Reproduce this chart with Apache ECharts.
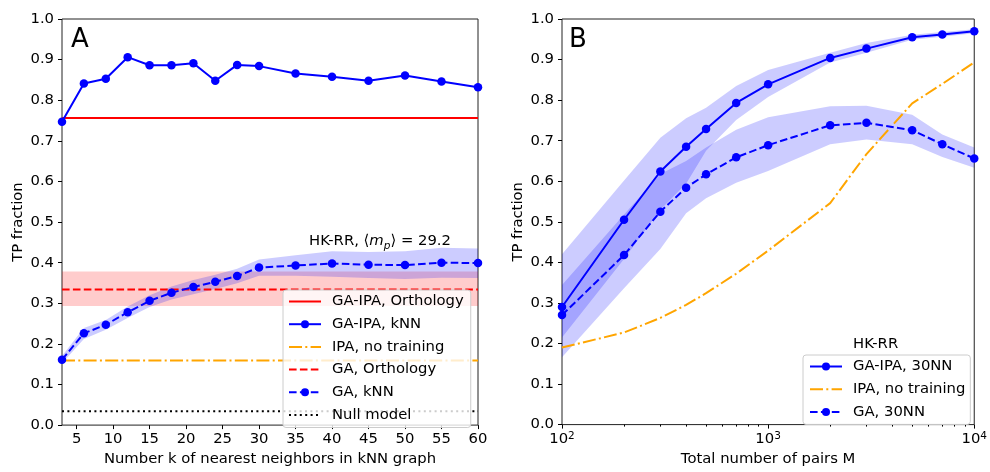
<!DOCTYPE html>
<html>
<head>
<meta charset="utf-8">
<script src="https://cdn.jsdelivr.net/npm/echarts@6/dist/echarts.min.js"></script>
<style>
  html, body { margin: 0; padding: 0; background: #fff; }
  #chart { width: 990px; height: 472px; }
</style>
</head>
<body>
<div id="chart"></div>
<script>
// ---- panel A : TP fraction vs k ----
var kValues   = [3, 6, 9, 12, 15, 18, 21, 24, 27, 30, 35, 40, 45, 50, 55, 60];
var gaIpaKnn  = [0.747, 0.841, 0.853, 0.906, 0.886, 0.886, 0.891, 0.848, 0.887, 0.884, 0.866, 0.858, 0.848, 0.861, 0.846, 0.832];
var gaKnn     = [0.161, 0.226, 0.247, 0.278, 0.306, 0.326, 0.340, 0.353, 0.367, 0.388, 0.393, 0.398, 0.395, 0.394, 0.400, 0.399];
var gaKnnLow  = [0.152, 0.212, 0.235, 0.264, 0.291, 0.309, 0.322, 0.335, 0.349, 0.368, 0.368, 0.365, 0.362, 0.360, 0.363, 0.362];
var gaKnnHigh = [0.170, 0.239, 0.259, 0.292, 0.320, 0.341, 0.357, 0.370, 0.385, 0.408, 0.418, 0.428, 0.426, 0.428, 0.437, 0.435];
var gaIpaOrthology = 0.756;
var gaOrthology = 0.334, gaOrthologyLow = 0.293, gaOrthologyHigh = 0.378;
var ipaNoTrainingA = 0.159;
var nullModel = 0.034;
var kTicks = [5, 10, 15, 20, 25, 30, 35, 40, 45, 50, 55, 60];

// ---- panel B : TP fraction vs M ----
var pairsM       = [100, 200, 300, 400, 500, 700, 1000, 2000, 3000, 5000, 7000, 10000];
var gaIpa30      = [0.290, 0.505, 0.624, 0.685, 0.729, 0.793, 0.839, 0.904, 0.927, 0.955, 0.962, 0.970];
var gaIpa30Low   = [0.215, 0.408, 0.530, 0.594, 0.675, 0.751, 0.808, 0.893, 0.917, 0.949, 0.956, 0.965];
var gaIpa30High  = [0.420, 0.602, 0.707, 0.755, 0.781, 0.835, 0.874, 0.917, 0.941, 0.961, 0.968, 0.975];
var ga30         = [0.270, 0.418, 0.525, 0.584, 0.617, 0.659, 0.689, 0.738, 0.744, 0.726, 0.691, 0.656];
var ga30Low      = [0.166, 0.336, 0.433, 0.521, 0.558, 0.596, 0.625, 0.691, 0.703, 0.691, 0.660, 0.633];
var ga30High     = [0.344, 0.518, 0.618, 0.650, 0.683, 0.727, 0.758, 0.785, 0.786, 0.764, 0.715, 0.683];
var ipaNoTrainingB = [0.190, 0.227, 0.263, 0.295, 0.324, 0.372, 0.429, 0.546, 0.667, 0.792, 0.840, 0.893];
var mMinorTicks  = [200, 300, 400, 500, 600, 700, 800, 900, 2000, 3000, 4000, 5000, 6000, 7000, 8000, 9000];

var FONT = 'DejaVu Sans';
var FS = 14.8;
var BLUE = '#0000ff', RED = '#ff0000', ORANGE = '#ffa500';
var DASH = [7.6, 3.3], DASHDOT = [13, 3.3, 2, 3.3], DOT = [2, 3.4];

function pts(xs, ys) { return xs.map(function (x, i) { return [x, ys[i]]; }); }
function flat(xs, v) { return [[xs[0], v], [xs[xs.length - 1], v]]; }

// shaded band between lo and hi, drawn as one polygon through the axes
function band(g, xs, lo, hi, color) {
  return {
    type: 'custom', xAxisIndex: g === 0 ? 0 : 1, yAxisIndex: g, silent: true, z: 1,
    data: xs.map(function (x, i) { return [x, lo[i], hi[i]]; }),
    encode: { x: 0, y: [1, 2] },
    renderItem: function (params, api) {
      if (params.dataIndex !== 0) return;
      var top = [], bot = [];
      for (var i = 0; i < xs.length; i++) {
        top.push(api.coord([xs[i], hi[i]]));
        bot.push(api.coord([xs[i], lo[i]]));
      }
      return { type: 'polygon', shape: { points: top.concat(bot.reverse()) }, style: { fill: color } };
    }
  };
}

function line(name, g, data, color, type, marker) {
  return { name: name, type: 'line', xAxisIndex: g === 0 ? 0 : 1, yAxisIndex: g, data: data,
    symbol: marker ? 'circle' : 'none', symbolSize: 8.5, showSymbol: !!marker,
    itemStyle: { color: color }, lineStyle: { color: color, width: 2, type: type },
    silent: true, z: 3 };
}

var yAxisBase = {
  type: 'value', min: 0, max: 1, interval: 0.1,
  name: 'TP fraction', nameLocation: 'middle', nameGap: 36,
  nameTextStyle: { fontSize: FS, color: '#000', fontFamily: FONT },
  axisLine: { show: false },
  axisTick: { show: true, length: 4, lineStyle: { color: '#000' } },
  axisLabel: { fontSize: FS, color: '#000', margin: 8, fontFamily: FONT,
    formatter: function (v) { return v.toFixed(1); } },
  splitLine: { show: false }
};

var legendBase = {
  orient: 'vertical', itemWidth: 32, itemHeight: 10, itemGap: 7.7,
  backgroundColor: 'rgba(255,255,255,0.8)', borderColor: '#cccccc', borderWidth: 1, borderRadius: 3,
  textStyle: { fontSize: FS, color: '#000', fontFamily: FONT, lineHeight: 14, padding: [0, 0, 0, 6] },
  selectedMode: false
};
var noMarker = { color: 'rgba(0,0,0,0)', borderWidth: 0, opacity: 0 };

var series = [];
series.push(band(0, [kValues[0], kValues[kValues.length - 1]],
  [gaOrthologyLow, gaOrthologyLow], [gaOrthologyHigh, gaOrthologyHigh], 'rgba(255,0,0,0.2)'));
series.push(band(0, kValues, gaKnnLow, gaKnnHigh, 'rgba(0,0,255,0.2)'));
series.push(line('GA-IPA, Orthology', 0, flat(kValues, gaIpaOrthology), RED, 'solid', false));
series.push(line('GA-IPA, kNN', 0, pts(kValues, gaIpaKnn), BLUE, 'solid', true));
series.push(line('IPA, no training', 0, flat(kValues, ipaNoTrainingA), ORANGE, DASHDOT, false));
series.push(line('GA, Orthology', 0, flat(kValues, gaOrthology), RED, DASH, false));
series.push(line('GA, kNN', 0, pts(kValues, gaKnn), BLUE, DASH, true));
series.push(line('Null model', 0, flat(kValues, nullModel), '#000', DOT, false));

series.push(band(1, pairsM, gaIpa30Low, gaIpa30High, 'rgba(0,0,255,0.2)'));
series.push(band(1, pairsM, ga30Low, ga30High, 'rgba(0,0,255,0.2)'));
series.push(line('GA-IPA, 30NN', 1, pts(pairsM, gaIpa30), BLUE, 'solid', true));
series.push(line('IPA, no training', 1, pts(pairsM, ipaNoTrainingB), ORANGE, DASHDOT, false));
series.push(line('GA, 30NN', 1, pts(pairsM, ga30), BLUE, DASH, true));

var option = {
  animation: false,
  textStyle: { fontFamily: FONT },
  grid: [
    { left: 62, right: 512, top: 19, bottom: 40, show: true, borderColor: '#222', borderWidth: 1, backgroundColor: 'transparent' },
    { left: 562, right: 12, top: 19, bottom: 40, show: true, borderColor: '#222', borderWidth: 1, backgroundColor: 'transparent' }
  ],
  xAxis: [
    { type: 'value', gridIndex: 0, min: 3, max: 60,
      name: 'Number k of nearest neighbors in kNN graph', nameLocation: 'middle', nameGap: 24,
      nameTextStyle: { fontSize: FS, color: '#000', fontFamily: FONT },
      axisLine: { show: false },
      axisTick: { show: true, length: 4, lineStyle: { color: '#000' }, customValues: kTicks },
      axisLabel: { fontSize: FS, color: '#000', margin: 7, fontFamily: FONT, customValues: kTicks },
      splitLine: { show: false } },
    { type: 'log', logBase: 10, gridIndex: 1, min: 100, max: 10000,
      name: 'Total number of pairs M', nameLocation: 'middle', nameGap: 24,
      nameTextStyle: { fontSize: FS, color: '#000', fontFamily: FONT },
      axisLine: { show: false },
      axisTick: { show: true, length: 4, lineStyle: { color: '#000' } },
      axisLabel: { color: '#000', margin: 6,
        formatter: function (v) { return '{b|10}{s|' + Math.round(Math.log10(v)) + '}'; },
        rich: { b: { fontSize: FS, fontFamily: FONT, lineHeight: 18, color: '#000' },
                s: { fontSize: 10.5, fontFamily: FONT, lineHeight: 10, verticalAlign: 'top', color: '#000' } } },
      splitLine: { show: false } },
    { type: 'log', logBase: 10, gridIndex: 1, min: 100, max: 10000, position: 'bottom',
      axisLine: { show: false }, axisLabel: { show: false }, splitLine: { show: false },
      axisTick: { show: true, length: 2, lineStyle: { color: '#000' }, customValues: mMinorTicks } }
  ],
  yAxis: [
    Object.assign({ gridIndex: 0 }, yAxisBase),
    Object.assign({ gridIndex: 1 }, yAxisBase)
  ],
  legend: [
    Object.assign({ left: 283, top: 290, padding: [4, 7, 5, 5],
      data: [
        { name: 'GA-IPA, Orthology', itemStyle: noMarker },
        'GA-IPA, kNN',
        { name: 'IPA, no training', itemStyle: noMarker },
        { name: 'GA, Orthology', itemStyle: noMarker },
        'GA, kNN',
        { name: 'Null model', itemStyle: noMarker }
      ] }, legendBase),
    Object.assign({ left: 803, top: 355, padding: [4, 5, 5, 6],
      data: ['GA-IPA, 30NN', { name: 'IPA, no training', itemStyle: noMarker }, 'GA, 30NN'] }, legendBase)
  ],
  graphic: [
    { type: 'text', left: 71, top: 27, style: { text: 'A', fontSize: 26, fontFamily: FONT, fill: '#000' } },
    { type: 'text', left: 569, top: 27, style: { text: 'B', fontSize: 26, fontFamily: FONT, fill: '#000' } },
    { type: 'text', left: 853, top: 337, style: { text: 'HK-RR', fontSize: FS, fontFamily: FONT, fill: '#000' } },
    { type: 'text', left: 309, top: 234, style: {
      text: '{n|HK-RR, \u27e8}{i|m}{sub|p}{n|\u27e9 = 29.2}',
      rich: {
        n: { fontSize: FS, fontFamily: FONT, fill: '#000', lineHeight: 20 },
        i: { fontSize: FS, fontFamily: FONT, fontStyle: 'italic', fill: '#000', lineHeight: 20 },
        sub: { fontSize: 10.5, fontFamily: FONT, fontStyle: 'italic', fill: '#000', lineHeight: 10, verticalAlign: 'bottom' }
      } } }
  ],
  series: series
};

var chart = echarts.init(document.getElementById('chart'));
chart.setOption(option);
</script>
</body>
</html>
